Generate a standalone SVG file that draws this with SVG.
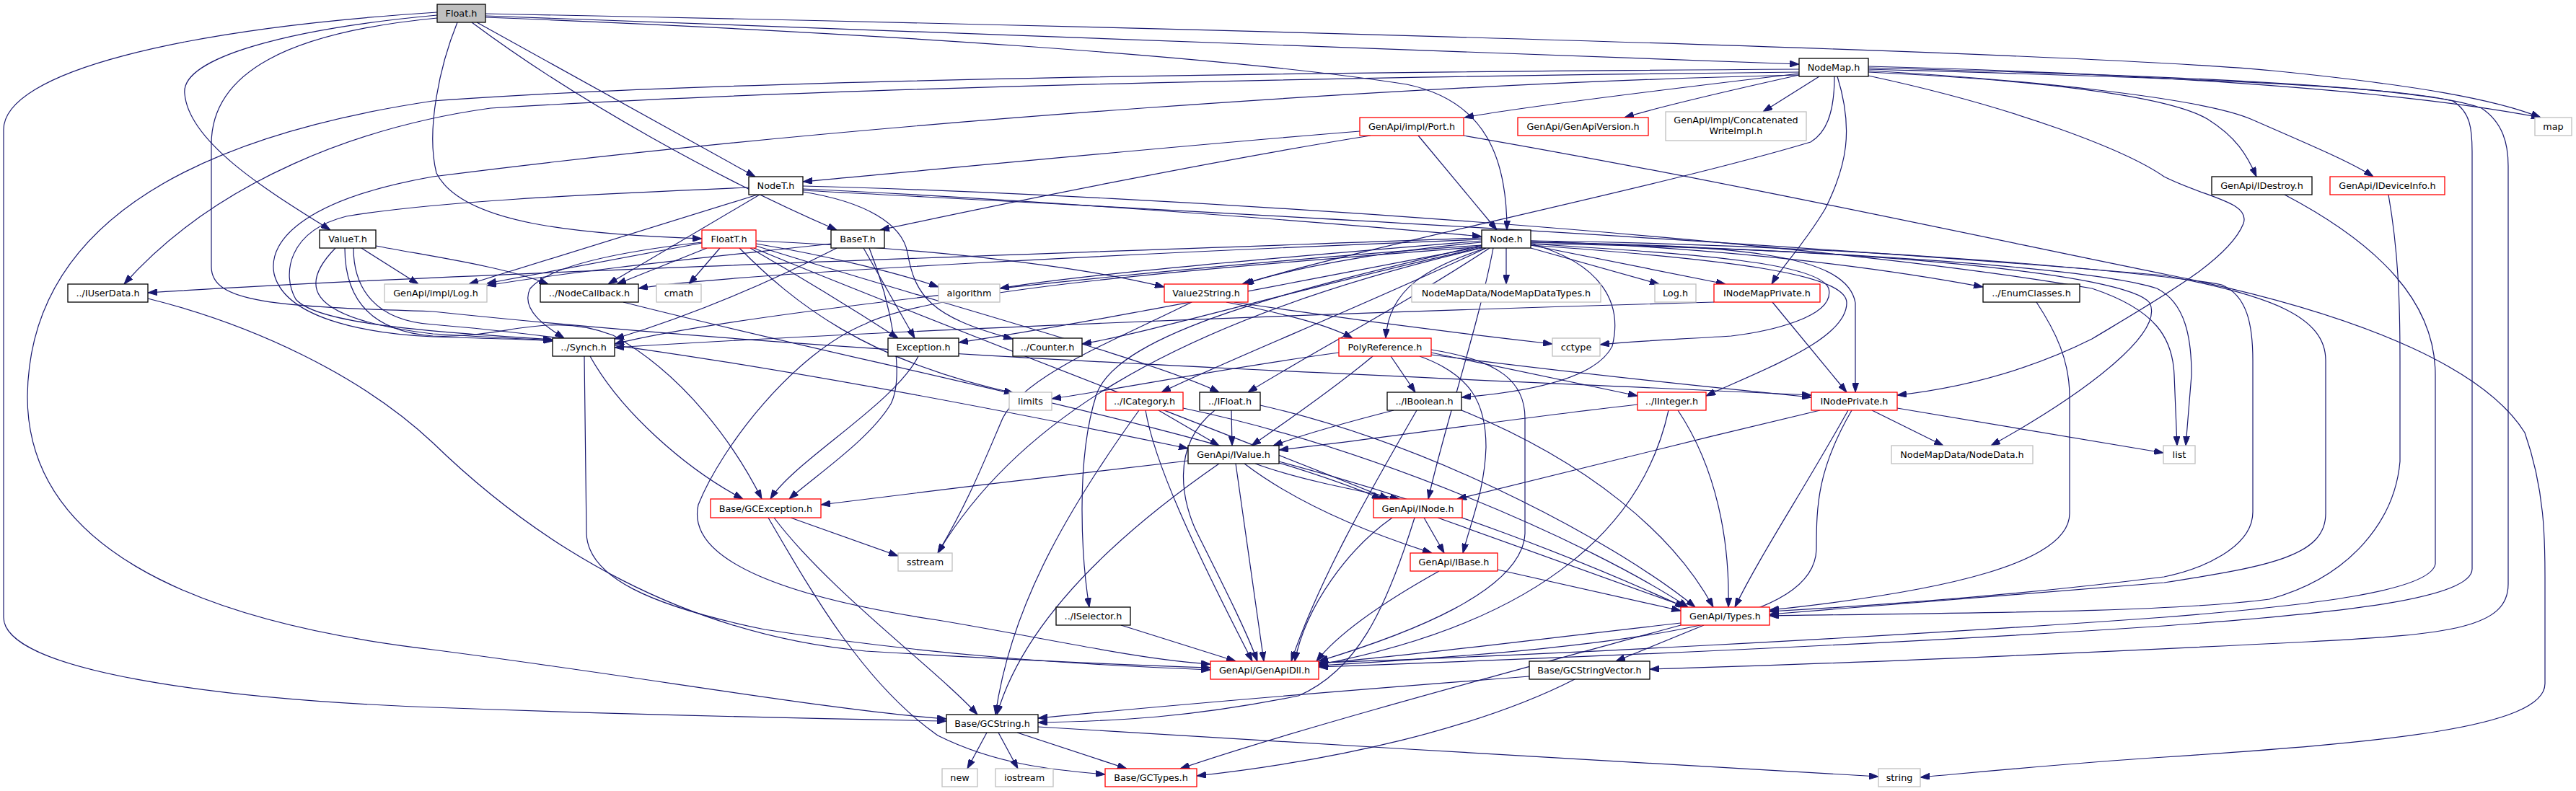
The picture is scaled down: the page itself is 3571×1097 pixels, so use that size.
<svg xmlns="http://www.w3.org/2000/svg" width="3571" height="1097" viewBox="0 0 3571 1097">
<style>
.nd rect{fill:#ffffff;stroke:#000000;stroke-width:1.3}
.rd rect{stroke:#ff0000}
.gy rect{stroke:#bfbfbf}
.rt rect{fill:#bfbfbf}
text{font-family:"DejaVu Sans","Noto Sans",sans-serif;font-size:12.8px;text-anchor:middle;fill:#000000}
.e path{fill:none;stroke:#191970;stroke-width:1.2;marker-end:url(#a)}
</style>
<defs>
<marker id="a" viewBox="0 0 13 9" refX="13" refY="4.5" markerWidth="13" markerHeight="9" orient="auto" markerUnits="userSpaceOnUse"><path d="M0,0L13,4.5L0,9z" fill="#191970" stroke="#191970" stroke-width="1"/></marker>
</defs>
<rect x="0" y="0" width="3571" height="1097" fill="#ffffff"/>
<g id="connectors" class="e">
<path d="M673,22 C1400,48 2000,72 2494,89"/>
<path d="M673,19 C1500,35 2850,70 3150,98 C3350,118 3460,138 3522,163"/>
<path d="M673,24 C1200,45 1700,78 1950,117 C2060,140 2089,220 2089,319"/>
<path d="M661,31 L1047,245"/>
<path d="M654,31 C800,140 1000,250 1160,319"/>
<path d="M634,31 C610,90 590,180 605,240 C640,310 800,325 973,331"/>
<path d="M606,21 C400,40 250,80 256,130 C262,200 380,270 458,319"/>
<path d="M606,17 C250,40 5,100 5,180 L5,856 C5,930 300,970 600,981 C900,992 1200,998 1312,1000"/>
<path d="M606,25 C400,45 293,100 293,200 L293,370 C293,420 380,425 600,432 C1200,495 1800,515 2511,548"/>
<path d="M2494,102 C2300,125 2100,150 2030,163"/>
<path d="M2494,104 C2400,125 2300,148 2252,163"/>
<path d="M2522,106 L2444,155"/>
<path d="M2547,106 C2570,180 2560,230 2530,290 C2500,340 2470,370 2456,394"/>
<path d="M2590,100 C2800,110 3000,130 3060,165 C3100,190 3115,215 3128,245"/>
<path d="M2590,98 C2800,110 3050,135 3120,165 C3200,200 3260,225 3290,245"/>
<path d="M2590,92 C2900,100 3300,120 3522,163"/>
<path d="M2590,96 C2900,105 3300,115 3400,140 C3425,155 3427,180 3427,210 L3427,789 C3427,830 3250,850 3000,868 C2600,895 2100,915 1828,925"/>
<path d="M2590,94 C2900,102 3350,115 3440,150 C3470,170 3477,200 3477,230 L3477,810 C3477,870 3400,880 3200,890 C2800,910 2500,922 2287,928"/>
<path d="M2590,105 C2800,150 2950,210 3000,245 C3060,275 3120,280 3110,310 C3090,360 3000,410 2900,470 C2800,520 2700,540 2630,548"/>
<path d="M2494,100 C2000,105 1200,118 680,150 C500,175 300,250 172,394"/>
<path d="M2494,96 C1800,100 1000,110 600,140 C200,200 40,350 38,550 C38,750 250,860 600,901 C900,940 1150,985 1312,997"/>
<path d="M2494,104 C2000,115 1200,168 600,245 C430,275 370,330 380,380 C395,440 500,462 600,467 C680,470 730,470 766,473"/>
<path d="M2543,106 C2543,160 2530,185 2510,197 C2300,260 1900,340 1722,394"/>
<path d="M1885,182 C1600,205 1300,235 1113,252"/>
<path d="M1900,188 C1700,220 1400,280 1220,319"/>
<path d="M1966,188 L2075,319"/>
<path d="M2029,188 C2400,252 2800,340 3000,380 C3300,440 3450,520 3500,600 C3528,680 3528,750 3528,800 L3528,948 C3528,1010 3300,1030 3000,1050 C2850,1060 2750,1070 2662,1078"/>
<path d="M1113,262 C1400,275 1800,305 2054,328"/>
<path d="M1050,270 L650,394"/>
<path d="M1053,270 L843,394"/>
<path d="M1038,260 C800,270 600,280 480,300 C400,320 390,380 410,415 C440,450 600,460 766,471"/>
<path d="M1113,266 C1200,280 1250,310 1258,350 C1268,410 1290,440 1404,470"/>
<path d="M1113,264 C1500,285 2400,330 3000,382 C3150,410 3224,440 3224,500 L3224,712 C3224,770 3150,785 3000,808 C2800,825 2600,840 2453,852"/>
<path d="M1113,258 C1600,270 2500,330 2900,400 C2990,430 3012,470 3014,520 L3018,618"/>
<path d="M501,344 L580,394"/>
<path d="M521,341 C600,356 700,370 760,394"/>
<path d="M465,344 C420,390 410,440 600,463 C680,468 730,470 766,472"/>
<path d="M478,344 C478,420 520,460 600,466 C700,470 760,430 850,465 C950,520 1020,620 1056,692"/>
<path d="M490,344 C490,400 520,445 600,450 C900,475 1300,550 1647,622"/>
<path d="M973,337 L675,393"/>
<path d="M973,336 C850,350 760,370 735,400 C720,430 760,455 782,469"/>
<path d="M980,344 L855,394"/>
<path d="M998,344 L955,394"/>
<path d="M1048,338 C1150,355 1250,380 1301,398"/>
<path d="M1048,334 C1300,345 1500,370 1614,398"/>
<path d="M1040,344 C1120,390 1200,440 1245,469"/>
<path d="M1025,344 C1100,420 1200,500 1405,545"/>
<path d="M1048,341 C1300,420 1600,500 1690,544"/>
<path d="M1045,344 C1300,450 1700,600 1925,692"/>
<path d="M1152,338 C1000,355 800,375 675,396"/>
<path d="M1160,344 C1050,400 950,440 852,470"/>
<path d="M1197,344 L1268,469"/>
<path d="M1205,344 C1235,420 1255,520 1235,560 C1205,610 1130,660 1094,692"/>
<path d="M2054,330 C1500,350 600,380 205,406"/>
<path d="M2054,332 C1600,350 1000,380 885,400"/>
<path d="M2054,334 C1800,355 1500,380 1386,400"/>
<path d="M2054,336 C1900,350 1780,375 1725,394"/>
<path d="M2088,344 L2088,394"/>
<path d="M2122,344 L2300,394"/>
<path d="M2122,340 L2392,394"/>
<path d="M2122,334 C2400,345 2600,370 2749,398"/>
<path d="M2054,340 C1500,380 1000,440 852,477"/>
<path d="M2054,342 C1800,390 1500,450 1329,475"/>
<path d="M2054,343 C1800,400 1600,460 1500,477"/>
<path d="M2060,344 C1980,370 1925,400 1921,469"/>
<path d="M2122,338 C2300,350 2520,360 2535,400 C2545,440 2450,460 2400,466 C2300,472 2250,474 2218,478"/>
<path d="M2060,344 C1900,420 1700,500 1610,544"/>
<path d="M2065,344 C1950,420 1800,500 1730,544"/>
<path d="M2122,338 C2220,365 2250,420 2235,480 C2210,530 2100,545 2026,551"/>
<path d="M2122,340 C2400,360 2560,380 2560,420 C2560,470 2450,510 2365,549"/>
<path d="M2122,336 C2400,340 2560,350 2572,420 L2572,544"/>
<path d="M2122,336 C2500,345 2900,370 2990,400 C3030,420 3038,470 3038,520 L3030,618"/>
<path d="M2122,338 C2600,345 2950,380 2980,420 C3000,460 2900,540 2760,618"/>
<path d="M2070,344 C2050,450 2000,600 1980,692"/>
<path d="M2054,344 C1600,450 1400,600 1300,767"/>
<path d="M2054,340 C1800,400 1550,460 1520,547 C1490,640 1500,780 1510,842"/>
<path d="M2122,334 C2600,340 3000,380 3080,395 C3115,410 3123,450 3123,500 L3123,710 C3123,760 3050,790 3000,800 C2800,825 2600,840 2453,848"/>
<path d="M2054,342 C1700,370 1300,400 1200,449 C1100,490 1000,620 968,700 C950,780 1100,830 1300,860 C1450,885 1580,915 1678,921"/>
<path d="M205,414 C350,450 500,520 600,614 C750,760 950,880 1200,903 C1400,915 1550,922 1678,926"/>
<path d="M864,419 C1200,505 1700,600 1915,692"/>
<path d="M810,494 L813,740 C815,800 900,840 1060,873 C1300,910 1500,922 1678,929"/>
<path d="M818,494 C860,570 950,650 1030,692"/>
<path d="M1273,494 C1240,560 1100,640 1068,692"/>
<path d="M1652,419 C1550,470 1420,520 1390,580 C1360,650 1340,700 1300,767"/>
<path d="M1711,419 C1850,440 2000,460 2152,477"/>
<path d="M1700,419 C1780,435 1840,450 1875,469"/>
<path d="M2376,419 C1800,435 1200,460 852,482"/>
<path d="M2457,419 L2560,544"/>
<path d="M2823,419 C2850,460 2869,500 2869,550 L2869,712 C2869,780 2700,820 2453,846"/>
<path d="M1856,489 C1700,510 1550,540 1458,553"/>
<path d="M1903,494 C1860,530 1790,580 1735,618"/>
<path d="M1984,489 L2270,549"/>
<path d="M1928,494 L1962,544"/>
<path d="M1968,494 C2040,520 2060,560 2060,620 C2058,680 2040,720 2028,767"/>
<path d="M1984,492 C2200,520 2400,540 2511,551"/>
<path d="M1984,485 C2080,500 2114,530 2114,580 L2114,740 C2110,820 1950,880 1828,917"/>
<path d="M1606,569 L1690,618"/>
<path d="M1588,569 C1600,640 1650,750 1736,917"/>
<path d="M1579,569 C1470,720 1400,850 1380,991"/>
<path d="M1640,566 C1900,620 2200,750 2340,842"/>
<path d="M1707,569 L1708,618"/>
<path d="M1684,569 C1620,620 1640,700 1660,740 C1700,820 1730,880 1743,917"/>
<path d="M1747,562 C2000,620 2250,760 2350,842"/>
<path d="M1932,569 C1850,590 1800,605 1765,618"/>
<path d="M1964,569 C1900,680 1830,800 1790,917"/>
<path d="M2026,569 C2200,640 2320,740 2375,842"/>
<path d="M2270,561 C2100,580 1900,610 1773,624"/>
<path d="M2313,569 C2280,720 2150,860 1828,922"/>
<path d="M2326,569 C2380,650 2398,750 2396,842"/>
<path d="M2523,569 C2350,610 2150,660 2020,692"/>
<path d="M2562,569 C2500,680 2440,770 2405,842"/>
<path d="M2567,569 C2520,650 2518,700 2518,760 C2518,860 2300,895 1828,923"/>
<path d="M2595,569 L2694,618"/>
<path d="M2630,566 L2999,628"/>
<path d="M1647,639 C1500,655 1300,680 1138,700"/>
<path d="M1740,643 C1800,665 1880,680 1940,692"/>
<path d="M1725,643 C1800,700 1900,740 1985,767"/>
<path d="M1713,643 L1752,917"/>
<path d="M1690,643 C1550,740 1420,860 1382,991"/>
<path d="M1773,640 C2000,700 2200,780 2335,842"/>
<path d="M1096,718 L1245,771"/>
<path d="M1073,718 C1150,820 1300,930 1355,991"/>
<path d="M1065,718 C1130,830 1200,950 1300,1020 C1380,1060 1460,1068 1532,1074"/>
<path d="M1974,718 L2002,767"/>
<path d="M1993,718 L2338,842"/>
<path d="M1930,718 C1870,760 1810,840 1795,917"/>
<path d="M1961,718 C1920,850 1880,930 1800,965 C1650,995 1550,1000 1439,1002"/>
<path d="M2076,790 L2330,847"/>
<path d="M1995,792 C1900,845 1850,885 1825,917"/>
<path d="M1554,867 L1713,917"/>
<path d="M2330,867 C2100,930 1800,1010 1636,1066"/>
<path d="M2362,867 L2240,917"/>
<path d="M2330,864 C2100,890 1950,910 1828,920"/>
<path d="M3167,270 C3300,340 3376,420 3376,520 L3376,782 C3370,820 3200,840 3000,856 C2600,885 2100,910 1828,919"/>
<path d="M3311,270 C3325,350 3327,420 3327,500 L3327,640 C3320,720 3260,800 3146,831 C3000,850 2700,850 2453,854"/>
<path d="M2120,938 C1900,955 1600,980 1439,996"/>
<path d="M2183,942 C2050,1010 1850,1055 1659,1076"/>
<path d="M1368,1016 L1341,1066"/>
<path d="M1384,1016 L1411,1066"/>
<path d="M1410,1016 L1562,1066"/>
<path d="M1439,1008 C1800,1030 2300,1060 2604,1077"/>
</g>
<g id="n_float" class="nd rt"><rect x="606" y="6" width="67" height="25"/><text x="639.5" y="23">Float.h</text></g>
<g id="n_nodemap" class="nd"><rect x="2494" y="81" width="96" height="25"/><text x="2542" y="98">NodeMap.h</text></g>
<g id="n_map" class="nd gy"><rect x="3514" y="163" width="51" height="25"/><text x="3539.5" y="180">map</text></g>
<g id="n_port" class="nd rd"><rect x="1885" y="163" width="144" height="25"/><text x="1957" y="180">GenApi/impl/Port.h</text></g>
<g id="n_version" class="nd rd"><rect x="2104" y="163" width="181" height="25"/><text x="2194.5" y="180">GenApi/GenApiVersion.h</text></g>
<g id="n_concat" class="nd gy"><rect x="2309" y="155" width="195" height="40"/><text x="2406.5" y="171">GenApi/impl/Concatenated</text><text x="2406.5" y="186">WriteImpl.h</text></g>
<g id="n_nodet" class="nd"><rect x="1038" y="245" width="75" height="25"/><text x="1075.5" y="262">NodeT.h</text></g>
<g id="n_idestroy" class="nd"><rect x="3066" y="245" width="139" height="25"/><text x="3135.5" y="262">GenApi/IDestroy.h</text></g>
<g id="n_idevinfo" class="nd rd"><rect x="3230" y="245" width="159" height="25"/><text x="3309.5" y="262">GenApi/IDeviceInfo.h</text></g>
<g id="n_valuet" class="nd"><rect x="443" y="319" width="78" height="25"/><text x="482" y="336">ValueT.h</text></g>
<g id="n_floatt" class="nd rd"><rect x="973" y="319" width="75" height="25"/><text x="1010.5" y="336">FloatT.h</text></g>
<g id="n_baset" class="nd"><rect x="1152" y="319" width="74" height="25"/><text x="1189" y="336">BaseT.h</text></g>
<g id="n_node" class="nd"><rect x="2054" y="319" width="68" height="25"/><text x="2088" y="336">Node.h</text></g>
<g id="n_iuserdata" class="nd"><rect x="94" y="394" width="111" height="25"/><text x="149.5" y="411">../IUserData.h</text></g>
<g id="n_logimpl" class="nd gy"><rect x="533" y="394" width="142" height="25"/><text x="604" y="411">GenApi/impl/Log.h</text></g>
<g id="n_nodecb" class="nd"><rect x="749" y="394" width="136" height="25"/><text x="817" y="411">../NodeCallback.h</text></g>
<g id="n_cmath" class="nd gy"><rect x="910" y="394" width="62" height="25"/><text x="941" y="411">cmath</text></g>
<g id="n_algorithm" class="nd gy"><rect x="1301" y="394" width="85" height="25"/><text x="1343.5" y="411">algorithm</text></g>
<g id="n_v2s" class="nd rd"><rect x="1614" y="394" width="116" height="25"/><text x="1672" y="411">Value2String.h</text></g>
<g id="n_nmdt" class="nd gy"><rect x="1957" y="394" width="262" height="25"/><text x="2088" y="411">NodeMapData/NodeMapDataTypes.h</text></g>
<g id="n_log" class="nd gy"><rect x="2294" y="394" width="57" height="25"/><text x="2322.5" y="411">Log.h</text></g>
<g id="n_inmp" class="nd rd"><rect x="2376" y="394" width="147" height="25"/><text x="2449.5" y="411">INodeMapPrivate.h</text></g>
<g id="n_enum" class="nd"><rect x="2749" y="394" width="134" height="25"/><text x="2816" y="411">../EnumClasses.h</text></g>
<g id="n_synch" class="nd"><rect x="766" y="469" width="86" height="25"/><text x="809" y="486">../Synch.h</text></g>
<g id="n_exception" class="nd"><rect x="1231" y="469" width="98" height="25"/><text x="1280" y="486">Exception.h</text></g>
<g id="n_counter" class="nd"><rect x="1404" y="469" width="96" height="25"/><text x="1452" y="486">../Counter.h</text></g>
<g id="n_polyref" class="nd rd"><rect x="1856" y="469" width="128" height="25"/><text x="1920" y="486">PolyReference.h</text></g>
<g id="n_cctype" class="nd gy"><rect x="2152" y="469" width="66" height="25"/><text x="2185" y="486">cctype</text></g>
<g id="n_limits" class="nd gy"><rect x="1399" y="544" width="59" height="25"/><text x="1428.5" y="561">limits</text></g>
<g id="n_icategory" class="nd rd"><rect x="1533" y="544" width="107" height="25"/><text x="1586.5" y="561">../ICategory.h</text></g>
<g id="n_ifloat" class="nd"><rect x="1663" y="544" width="84" height="25"/><text x="1705" y="561">../IFloat.h</text></g>
<g id="n_iboolean" class="nd"><rect x="1923" y="544" width="103" height="25"/><text x="1974.5" y="561">../IBoolean.h</text></g>
<g id="n_iinteger" class="nd rd"><rect x="2270" y="544" width="95" height="25"/><text x="2317.5" y="561">../IInteger.h</text></g>
<g id="n_inp" class="nd rd"><rect x="2511" y="544" width="119" height="25"/><text x="2570.5" y="561">INodePrivate.h</text></g>
<g id="n_ivalue" class="nd"><rect x="1647" y="618" width="126" height="25"/><text x="1710" y="635">GenApi/IValue.h</text></g>
<g id="n_nodedata" class="nd gy"><rect x="2622" y="618" width="196" height="25"/><text x="2720" y="635">NodeMapData/NodeData.h</text></g>
<g id="n_list" class="nd gy"><rect x="2999" y="618" width="44" height="25"/><text x="3021" y="635">list</text></g>
<g id="n_gcexception" class="nd rd"><rect x="985" y="692" width="153" height="26"/><text x="1061.5" y="709.5">Base/GCException.h</text></g>
<g id="n_inode" class="nd rd"><rect x="1904" y="692" width="123" height="26"/><text x="1965.5" y="709.5">GenApi/INode.h</text></g>
<g id="n_sstream" class="nd gy"><rect x="1245" y="767" width="75" height="25"/><text x="1282.5" y="784">sstream</text></g>
<g id="n_ibase" class="nd rd"><rect x="1955" y="767" width="121" height="25"/><text x="2015.5" y="784">GenApi/IBase.h</text></g>
<g id="n_iselector" class="nd"><rect x="1464" y="842" width="103" height="25"/><text x="1515.5" y="859">../ISelector.h</text></g>
<g id="n_types" class="nd rd"><rect x="2330" y="842" width="123" height="25"/><text x="2391.5" y="859">GenApi/Types.h</text></g>
<g id="n_genapidll" class="nd rd"><rect x="1678" y="917" width="150" height="25"/><text x="1753" y="934">GenApi/GenApiDll.h</text></g>
<g id="n_gcstringvector" class="nd"><rect x="2120" y="917" width="167" height="25"/><text x="2203.5" y="934">Base/GCStringVector.h</text></g>
<g id="n_gcstring" class="nd"><rect x="1312" y="991" width="127" height="25"/><text x="1375.5" y="1008">Base/GCString.h</text></g>
<g id="n_new" class="nd gy"><rect x="1306" y="1066" width="49" height="25"/><text x="1330.5" y="1083">new</text></g>
<g id="n_iostream" class="nd gy"><rect x="1380" y="1066" width="80" height="25"/><text x="1420" y="1083">iostream</text></g>
<g id="n_gctypes" class="nd rd"><rect x="1532" y="1066" width="127" height="25"/><text x="1595.5" y="1083">Base/GCTypes.h</text></g>
<g id="n_string" class="nd gy"><rect x="2604" y="1066" width="58" height="25"/><text x="2633" y="1083">string</text></g>
</svg>
